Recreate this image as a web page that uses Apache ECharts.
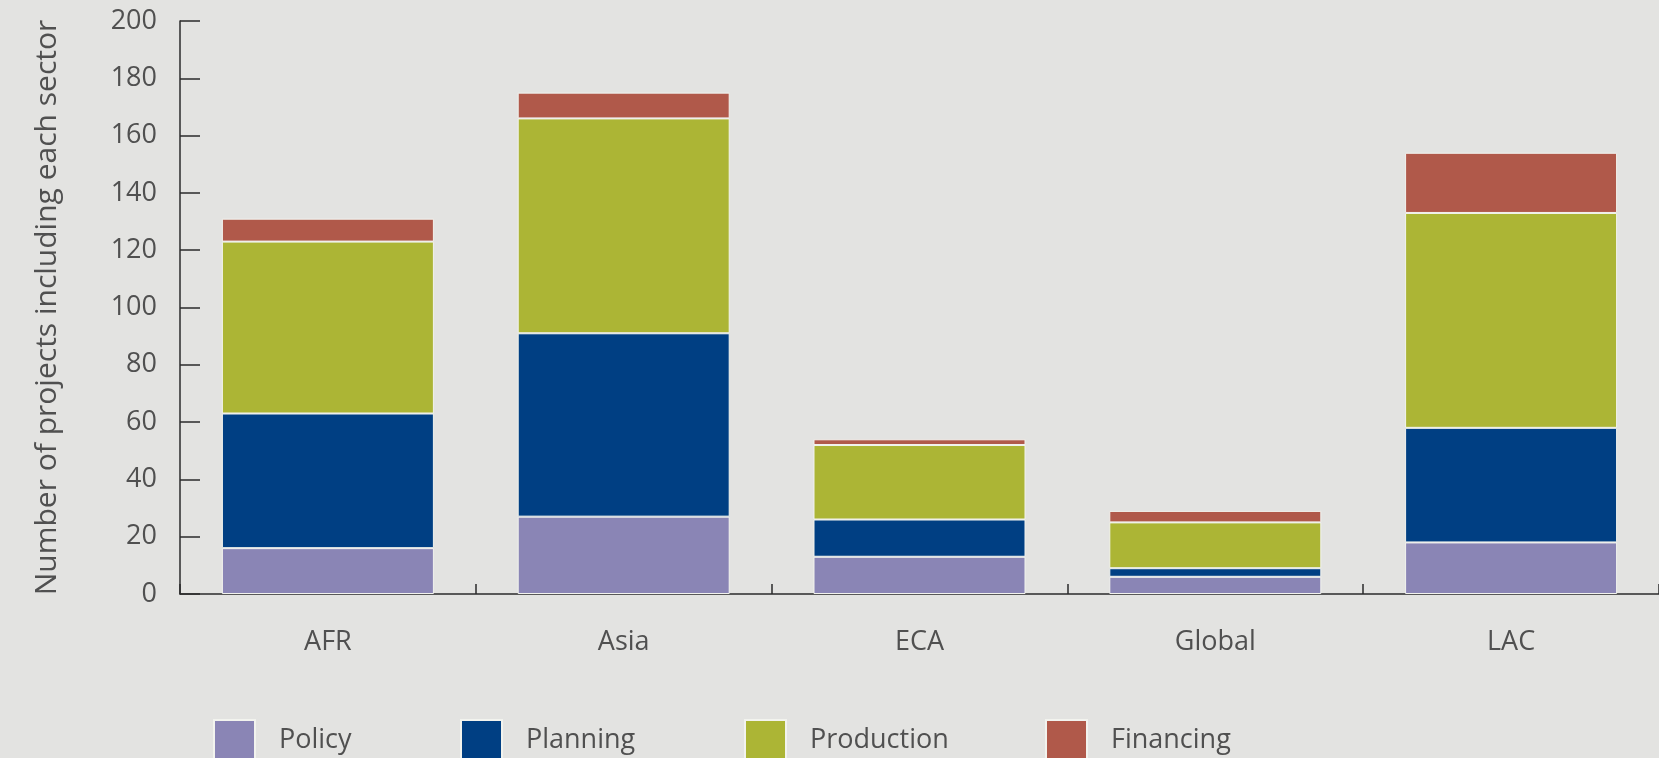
<!DOCTYPE html>
<html>
<head>
<meta charset="utf-8">
<script src="https://cdn.jsdelivr.net/npm/echarts@6/dist/echarts.min.js"></script>
<style>
html,body{margin:0;padding:0;background:#e3e3e1;}
#c{width:1659px;height:758px;}
</style>
</head>
<body>
<div id="c"></div>
<script>
const categories = ['AFR', 'Asia', 'ECA', 'Global', 'LAC'];
const policy     = [16, 27, 13, 6, 18];
const planning   = [47, 64, 13, 3, 40];
const production = [60, 75, 26, 16, 75];
const financing  = [8, 9, 2, 4, 21];
const seriesNames = ['Policy', 'Planning', 'Production', 'Financing'];
const colors = ['#8a85b5', '#003f83', '#acb535', '#b0594a'];
const yTicks = { min: 0, max: 200, interval: 20 };

const FONT = 'Open Sans';
const TXT = '#505050';
const AX = '#2b2b2b';

const chart = echarts.init(document.getElementById('c'));
const values = [policy, planning, production, financing];
const legendLeft = [208, 455, 739, 1040];

const option = {
  backgroundColor: '#e3e3e1',
  animation: false,
  grid: { left: 180, right: 0, top: 21, bottom: 164, containLabel: false },
  legend: seriesNames.map((n, i) => ({
    data: [n],
    left: legendLeft[i],
    top: 714,
    itemWidth: 41,
    itemHeight: 41,
    icon: 'rect',
    selectedMode: false,
    textStyle: { fontFamily: FONT, fontSize: 27, color: TXT, padding: [0, 0, 0, 19] }
  })),
  xAxis: {
    type: 'category',
    data: categories,
    axisLine: { lineStyle: { color: AX, width: 1.5 } },
    axisTick: { show: true, inside: true, length: 10, lineStyle: { color: AX, width: 1.5 } },
    axisLabel: { fontFamily: FONT, fontSize: 27, color: TXT, margin: 35 },
    splitLine: { show: false }
  },
  yAxis: {
    type: 'value',
    min: yTicks.min, max: yTicks.max, interval: yTicks.interval,
    name: 'Number of projects including each sector',
    nameLocation: 'middle',
    nameGap: 118,
    nameTextStyle: { fontFamily: FONT, fontSize: 30, color: TXT },
    axisLine: { show: true, lineStyle: { color: AX, width: 1.5 } },
    axisTick: { show: true, inside: true, length: 20, lineStyle: { color: AX, width: 1.5 } },
    axisLabel: { fontFamily: FONT, fontSize: 27, color: TXT, margin: 23 },
    splitLine: { show: false }
  },
  series: seriesNames.map((n, i) => ({
    name: n,
    type: 'bar',
    stack: 'total',
    data: values[i],
    barWidth: 212,
    itemStyle: { color: colors[i], borderColor: '#f2f3ee', borderWidth: 1 },
    emphasis: { disabled: true }
  }))
};
chart.setOption(option);
</script>
</body>
</html>
